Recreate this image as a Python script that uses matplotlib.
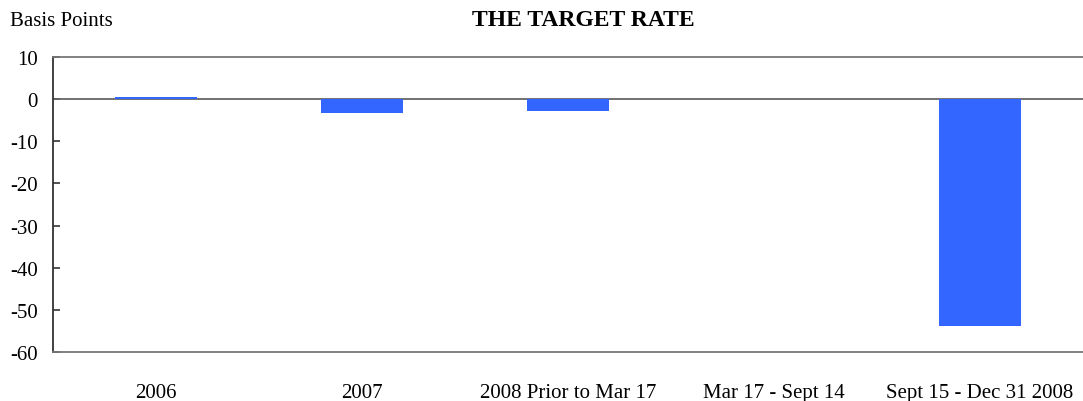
import matplotlib.pyplot as plt
import numpy as np

plt.rcParams['font.family'] = ['Liberation Serif', 'DejaVu Serif']
plt.rcParams['axes.unicode_minus'] = False

categories = ['2006', '2007', '2008 Prior to Mar 17', 'Mar 17 - Sept 14', 'Sept 15 - Dec 31 2008']
values = [0.5, -3.2, -2.8, 0.0, -53.8]

fig = plt.figure(figsize=(10.83, 4.02), dpi=100)
ax = fig.add_axes([53 / 1083, 49 / 402, 1 - 53 / 1083, 295 / 402])

x = np.arange(len(categories))
ax.axhline(0, color='#666666', lw=1.3, zorder=2)
ax.bar(x, values, width=0.40, color='#3366FF', zorder=3)

ax.set_xlim(-0.5, len(categories) - 0.5)
ax.set_ylim(-60, 10)
ax.set_yticks(np.arange(-60, 11, 10))
ax.set_xticks(x)
ax.set_xticklabels(categories, fontsize=15)
ax.tick_params(axis='y', labelsize=15, direction='in', length=5, width=1.2, color='#333333', pad=11)
ax.tick_params(axis='x', length=0, pad=22)

for s in ['top', 'bottom']:
    ax.spines[s].set_color('#777777')
    ax.spines[s].set_linewidth(1.3)
ax.spines['left'].set_color('#333333')
ax.spines['left'].set_linewidth(1.3)
ax.spines['right'].set_visible(False)

fig.text(10 / 1083, 1 - 21 / 402, 'Basis Points', fontsize=15, va='center', ha='left')
fig.text(583 / 1083, 1 - 20 / 402, 'THE TARGET RATE', fontsize=17, fontweight='bold', va='center', ha='center')

fig.savefig('out.png', dpi=100)
